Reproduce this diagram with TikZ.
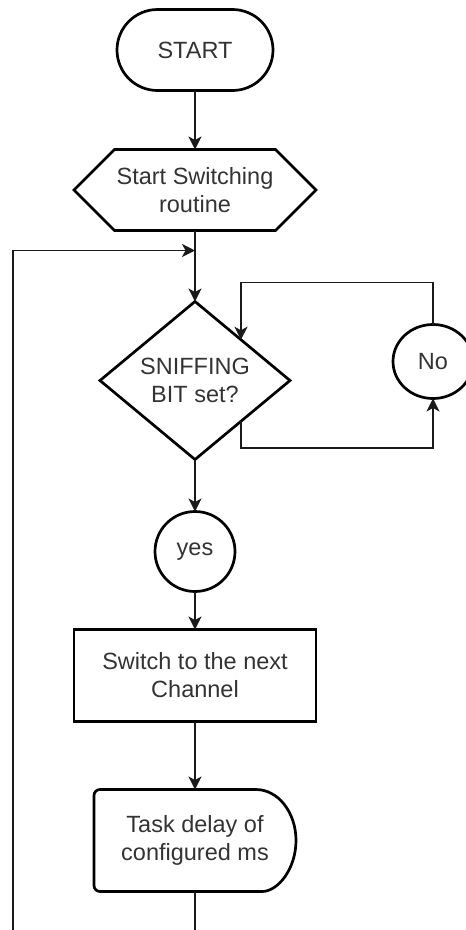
\documentclass[tikz,border=0pt]{standalone}
\usepackage{fontspec}
\setmainfont{Liberation Sans}
\usetikzlibrary{
  arrows.meta, positioning, shapes.geometric,
  shapes.misc, shapes.symbols, calc
}
\definecolor{colInk} {HTML}{000000}
\definecolor{colText}{HTML}{333333}
\definecolor{colWire}{HTML}{1A1A1A}
\tikzset{
  outline/.style={draw=colInk, line width=2.7pt},
  block/.style={
    outline, align=center, inner sep=2pt, outer sep=0pt,
    text=colText, font=\fontsize{23.5}{28}\selectfont
  },
  term/.style    ={block, rounded rectangle, minimum width=160pt, minimum height=81pt},
  prep/.style    ={block, signal, signal to=west and east, signal pointer angle=90,
                   minimum width=242pt, minimum height=81pt},
  dec/.style     ={block, diamond, aspect=1.2, inner sep=0pt,
                   minimum width=190pt, minimum height=158pt},
  nodecirc/.style={block, circle, minimum size=80pt},
  proc/.style    ={block, rectangle, minimum width=242pt, minimum height=92pt},
  delaybox/.style={block, draw=none, minimum width=202pt, minimum height=102pt},
  farr/.style={
    -{Stealth[length=13pt,width=13pt,inset=3.5pt]},
    line width=1.7pt, draw=colWire
  }
}
\begin{document}
\begin{tikzpicture}[x=1pt, y=1pt]
  \useasboundingbox (0,0) rectangle (466,-930);
  \node[term] (start) at (195,-50) {START};
  \node[prep, below=59pt of start]   (routine) {Start Switching\\routine};
  \node[dec,  below=71pt of routine] (sniff)   {SNIFFING\\BIT set?};
  \node[nodecirc, ellipse, minimum width=80pt, minimum height=74pt,
        right=103pt of sniff, yshift=19pt] (no) {No};
  \node[nodecirc, below=52pt of sniff] (yes)    {yes};
  \node[proc, below=38pt of yes]       (switch) {Switch to the next\\Channel};
  \node[delaybox, below=68pt of switch] (delay) {Task delay of\\configured ms};
  \draw[outline] ([xshift=-40pt]delay.south east)
    arc[start angle=-90, end angle=90, x radius=40pt, y radius=51pt]
    [rounded corners=6pt] -- (delay.north west) -- (delay.south west) -- cycle;
  % connectors
  \coordinate (join) at ([yshift=-20pt]routine.south);
  \coordinate (rail) at (13,-1000);
  \coordinate (lowside) at ($(sniff.south)!0.484!(sniff.east)$);
  \coordinate (upside)  at ($(sniff.north)!0.484!(sniff.east)$);
  \draw[farr](start)--(routine); \draw[farr](routine)--(sniff);
  \draw[farr](sniff)--(yes); \draw[farr](yes)--(switch);
  \draw[farr](switch)--(delay);
  \draw[farr](lowside) -- ++(0,-27) -| (no.south);
  \draw[farr](no.north) -- ++(0,42) -| (upside);
  \draw[farr](delay.south) |- (rail) |- (join);
\end{tikzpicture}
\end{document}
